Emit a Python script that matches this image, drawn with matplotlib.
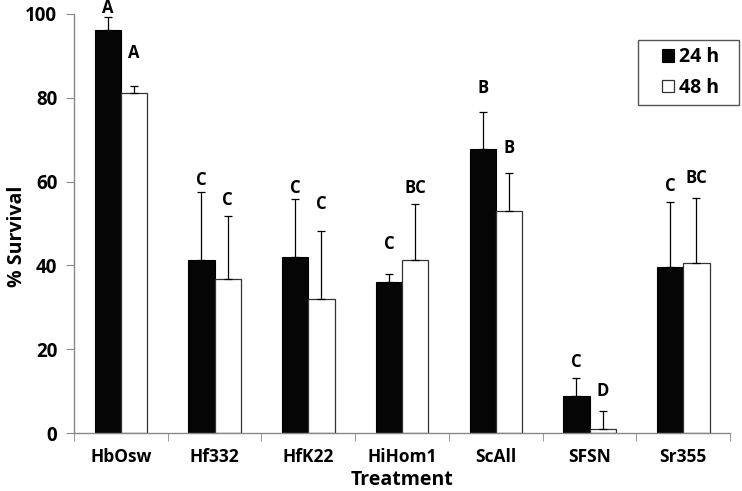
import numpy as np
import matplotlib.pyplot as plt
from matplotlib.patches import Rectangle

# Data
treatments = ['HbOsw', 'Hf332', 'HfK22', 'HiHom1', 'ScAll', 'SFSN', 'Sr355']
surv_24h = [96.2, 41.3, 42.1, 36.1, 67.7, 8.8, 39.7]
surv_48h = [81.1, 36.8, 32.1, 41.2, 53.0, 0.9, 40.7]
err_24h = [3.1, 16.2, 13.7, 1.9, 9.0, 4.4, 15.5]
err_48h = [1.7, 15.0, 16.0, 13.5, 9.0, 4.4, 15.5]
letters_24h = ['A', 'C', 'C', 'C', 'B', 'C', 'C']
letters_48h = ['A', 'C', 'C', 'BC', 'B', 'D', 'BC']
letter_y_24h = [101.4, 60.4, 58.5, 45.1, 82.3, 16.9, 58.9]
letter_y_48h = [90.7, 55.6, 54.7, 58.5, 68.0, 10.0, 60.9]

plt.rcParams['font.family'] = ['Open Sans', 'DejaVu Sans']

fig = plt.figure(figsize=(7.42, 4.91), dpi=100)
ax = fig.add_axes([0.0997, 0.118, 0.8843, 0.8535])

x = np.arange(len(treatments))
w = 0.28
err_kw = dict(ecolor='black', elinewidth=0.9, capsize=3, capthick=0.9)

ax.bar(x - w / 2, surv_24h, w, color='#050505', edgecolor='black', linewidth=0.8,
       yerr=[np.zeros(len(x)), err_24h], error_kw=err_kw, label='24 h')
ax.bar(x + w / 2, surv_48h, w, color='white', edgecolor='#333333', linewidth=0.9,
       yerr=[np.zeros(len(x)), err_48h], error_kw=err_kw, label='48 h')

for i in range(len(x)):
    ax.text(x[i] - w / 2, letter_y_24h[i], letters_24h[i], ha='center', va='center',
            fontsize=12, fontweight='bold')
    ax.text(x[i] + w / 2, letter_y_48h[i], letters_48h[i], ha='center', va='center',
            fontsize=12, fontweight='bold')

ax.set_xlim(-0.5, len(x) - 0.5)
ax.set_ylim(0, 100)
ax.set_yticks(np.arange(0, 101, 20))
ax.set_xticks(x)
ax.set_xticklabels(treatments, fontsize=12.5, fontweight='bold')
ax.set_xticks(np.arange(-0.5, len(x), 1), minor=True)
ax.tick_params(axis='x', which='major', length=0, pad=11)
ax.tick_params(axis='x', which='minor', length=6, color='#888888', direction='out')
ax.tick_params(axis='y', length=6, color='#888888', direction='out', pad=6)
for lab in ax.get_yticklabels():
    lab.set_fontsize(13.5)
    lab.set_fontweight('bold')

for side in ['top', 'right']:
    ax.spines[side].set_visible(False)
for side in ['left', 'bottom']:
    ax.spines[side].set_color('#888888')
    ax.spines[side].set_linewidth(1.0)

ax.set_xlabel('Treatment', fontsize=14, fontweight='bold', va='center')
ax.xaxis.set_label_coords(0.5, -0.112)
ax.set_ylabel('% Survival', fontsize=14, fontweight='bold', va='center')
ax.yaxis.set_label_coords(-0.087, 0.47)

# legend box
ax.add_patch(Rectangle((0.860, 0.783), 0.154, 0.155, transform=ax.transAxes,
                       facecolor='white', edgecolor='#555555', linewidth=1.0,
                       clip_on=False, zorder=4))
leg = ax.legend(loc='center', bbox_to_anchor=(0.94, 0.86), frameon=False,
                prop={'weight': 'bold', 'size': 14},
                handlelength=0.6, handleheight=0.6, handletextpad=0.3,
                borderpad=0, labelspacing=0.55)
leg.set_zorder(6)

fig.savefig('out.png', dpi=100)
